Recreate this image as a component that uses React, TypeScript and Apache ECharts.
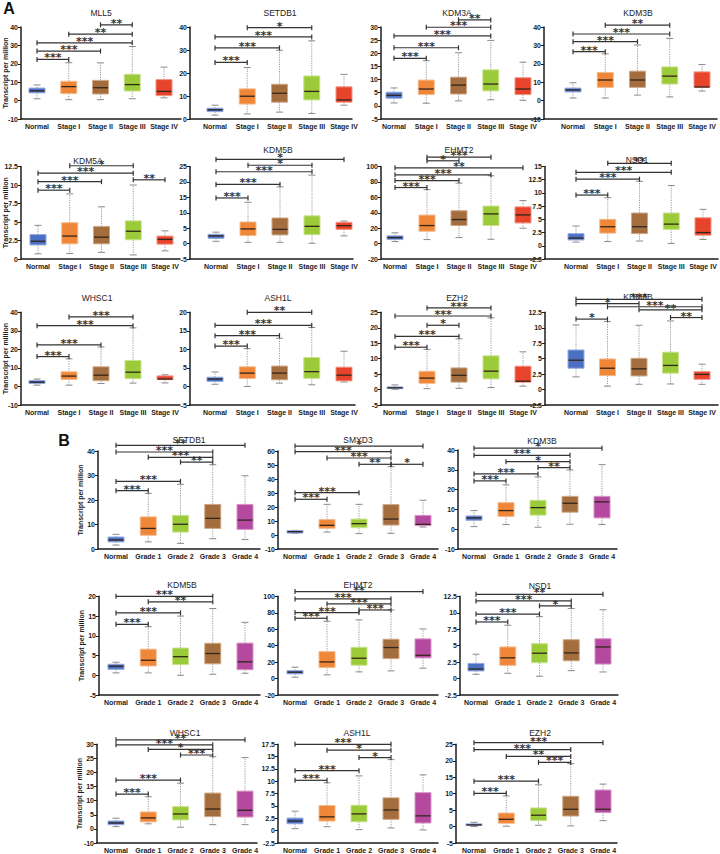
import React, { useEffect, useRef } from "react";
import * as echarts from "echarts";

// ---------- categories ----------
const STAGES = ["Normal", "Stage I", "Stage II", "Stage III", "Stage IV"];
const GRADES = ["Normal", "Grade 1", "Grade 2", "Grade 3", "Grade 4"];
const Y_NAME = "Transcript per million";

// ---------- box data: [min, q1, median, q3, max] ----------
const MLL5_BOX = [[1, 4.2, 5.3, 6.8, 8.5], [0.5, 3.8, 7.6, 10.5, 20.6], [0.5, 3.6, 7, 11, 20.5], [1, 5.2, 8.7, 14.3, 29.4], [1.5, 2.7, 5, 11.4, 18.2]];
const SETDB1A_BOX = [[1.7, 3.2, 4, 4.7, 6], [2.2, 6.5, 9.9, 13.1, 22.4], [3, 7.3, 11.2, 15.1, 29.9], [2.4, 8.3, 12, 18.7, 34], [6, 7.3, 8.3, 14, 19.4]];
const KDM3A_BOX = [[1.1, 2.9, 4, 5.2, 6.8], [1, 4.3, 6.4, 9.8, 17.2], [1.9, 4.5, 7.9, 10.9, 20.2], [2.3, 5.7, 8.3, 13.7, 24.9], [2.1, 4.3, 6.4, 10.7, 16.6]];
const KDM3BA_BOX = [[1.4, 4.7, 5.8, 6.8, 9.7], [1.4, 7.2, 11.2, 15.3, 25.4], [3, 7.2, 11.2, 16, 30.2], [2, 9, 13.3, 18.3, 33.8], [5.2, 7.2, 7.4, 15.6, 19.6]];
const KDM5A_BOX = [[0.7, 1.9, 2.4, 3.3, 4.55], [0.75, 2.05, 3.1, 4.9, 8.8], [0.9, 2.05, 2.95, 4.4, 7.05], [0.55, 2.6, 3.75, 5.15, 10], [1.1, 2, 2.65, 3.1, 3.8]];
const KDM5BA_BOX = [[0.75, 1.7, 2.5, 3, 3.7], [0.4, 2.6, 4.75, 7, 13.4], [0.4, 2.8, 4.6, 8.3, 18.4], [0.1, 2.9, 5.6, 9, 22.2], [2.5, 4.6, 5.8, 6.9, 7.3]];
const EHMT2A_BOX = [[2.6, 5.2, 7.8, 10, 13.9], [5.2, 16, 23.4, 37, 70], [7.8, 23.4, 31.2, 42.6, 78.4], [5.6, 23.4, 38.5, 48.7, 88], [19.9, 26.8, 37.2, 47.6, 55.8]];
const NSD1A_BOX = [[0.7, 1.1, 1.45, 2.3, 3.75], [0.8, 2.4, 3.6, 5, 9.1], [0.9, 2.3, 3.6, 6.2, 12.2], [0.45, 3.1, 4.1, 6.2, 11.4], [1.2, 2, 2.5, 5.3, 6.9]];
const WHSC1A_BOX = [[0.7, 1.6, 2.3, 3.2, 4], [0.7, 3.8, 5.6, 7.9, 14.9], [1.6, 3.1, 6.1, 10.6, 21.3], [1.8, 4.2, 7.7, 14, 31.6], [1.9, 3.7, 4, 5.7, 6.3]];
const ASH1LA_BOX = [[0.6, 1.35, 2, 2.5, 3.9], [0, 2.15, 3.6, 5.3, 10.2], [0.9, 1.8, 3.6, 5.5, 13], [0.45, 2.2, 4, 7.8, 15.9], [1.2, 1.5, 3.05, 5.2, 9.5]];
const EZH2A_BOX = [[0.1, 0.3, 0.55, 0.85, 1.5], [0.3, 2, 3.7, 5.9, 13], [0.4, 2.4, 4.6, 7, 16.4], [0.65, 3.45, 5.95, 10.9, 23.2], [1.1, 2.4, 2.7, 7.55, 12.2]];
const KDM6B_BOX = [[2.05, 3.45, 4.75, 6.4, 10.45], [0.55, 2.25, 3.45, 4.95, 11], [0.85, 2.2, 3.35, 5.05, 10.4], [0.9, 2.65, 3.9, 6.05, 11.1], [0.85, 1.65, 2.45, 2.9, 4.1]];

const SETDB1B_BOX = [[1.6, 2.9, 3.7, 4.9, 6], [2.9, 5.6, 8.4, 13.1, 22.7], [2.3, 6.9, 10.1, 13.7, 26.4], [4.2, 8.4, 12.5, 18.2, 34.4], [3.9, 8, 11.8, 18.2, 29.9]];
const SMYD3_BOX = [[1.2, 1.4, 2.4, 3.1, 3.3], [2.1, 4.8, 6.9, 11, 21.9], [1, 5.2, 8.1, 11.4, 21.9], [1.2, 7.1, 11.4, 21.7, 48.8], [5.7, 6.7, 7.6, 14, 24.8]];
const KDM3BB_BOX = [[1.3, 4.5, 5.7, 6.7, 9.4], [2.4, 6.4, 9.4, 13.4, 22.4], [1, 7.1, 10.9, 14.6, 26.4], [2.5, 8.6, 13.1, 16.6, 29.9], [2.4, 5.7, 13.8, 16.6, 32.6]];
const KDM5BB_BOX = [[0.6, 1.5, 2.3, 2.8, 3.3], [0.6, 2.35, 3.8, 6.6, 12.3], [0, 2.7, 4.7, 6.9, 15], [0.25, 2.9, 5.5, 8.1, 16.9], [0.5, 1.4, 3.4, 8.15, 13.4]];
const EHMT2B_BOX = [[1.6, 5.7, 7.7, 9.7, 13.8], [4.5, 13.4, 20.2, 32.8, 69.6], [8.1, 16.2, 24.7, 38, 71.3], [9.3, 24.3, 37.7, 47.8, 83.4], [12.6, 25.1, 28.3, 48.2, 60.3]];
const NSD1B_BOX = [[0.65, 1.15, 1.45, 2.3, 3.7], [0.8, 2, 3.15, 4.8, 8.1], [0.35, 2.4, 3.85, 5.3, 9.4], [1.2, 2.7, 3.9, 5.9, 10.65], [1, 2.2, 4.8, 6.05, 10.45]];
const WHSC1B_BOX = [[0.8, 1.5, 2.1, 2.8, 3.8], [1.8, 2.5, 3.9, 6, 11.4], [0.6, 3.2, 5.3, 7.9, 16.2], [1.5, 4.35, 7.05, 12.7, 25.6], [1.5, 4.2, 6.6, 13.4, 25.3]];
const ASH1LB_BOX = [[0.4, 1.4, 1.95, 2.55, 3.95], [0.8, 1.95, 2.8, 5.1, 9.7], [0.2, 1.8, 3.4, 5.15, 11.1], [0.55, 2.3, 4.2, 6.65, 14.4], [0.15, 1.55, 3, 7.7, 11.3]];
const EZH2B_BOX = [[0, 0.3, 0.5, 0.8, 1.3], [0.1, 1, 2.2, 4.1, 9.3], [0.4, 1.8, 3.45, 5.65, 12.7], [0.2, 3.2, 5.25, 9.2, 19.1], [1.8, 4.25, 5.25, 11.1, 12.9]];

// ---------- significance brackets: [from, to, height, stars] ----------
const MLL5_SIG = [[0, 1, 22.4, "***"], [0, 2, 26.9, "***"], [0, 3, 31.4, "***"], [1, 3, 36.1, "**"], [2, 3, 41.2, "**"]];
const SETDB1A_SIG = [[0, 1, 24.6, "***"], [0, 2, 30.9, "***"], [0, 3, 35.7, "***"], [1, 3, 39.7, "*"]];
const KDM3A_SIG = [[0, 1, 18.1, "***"], [0, 2, 22.1, "***"], [0, 3, 26.6, "***"], [1, 3, 29.9, "***"], [2, 3, 32.7, "**"]];
const KDM3BA_SIG = [[0, 1, 26.6, "***"], [0, 2, 32, "***"], [0, 3, 36.2, "***"], [1, 3, 41, "**"]];
const KDM5A_SIG = [[0, 1, 9.3, "***"], [0, 2, 10.45, "***"], [0, 3, 11.6, "***"], [1, 3, 12.6, "*"], [3, 4, 10.7, "**"]];
const KDM5BA_SIG = [[0, 1, 14.8, "***"], [0, 2, 19.2, "***"], [0, 3, 23.3, "***"], [1, 3, 25.4, "*"], [0, 4, 27.3, "*"]];
const EHMT2A_SIG = [[0, 1, 72.7, "***"], [0, 2, 81.8, "***"], [0, 3, 89.2, "***"], [0, 4, 98.3, "**"], [1, 2, 107.4, "*"], [1, 3, 112.1, "***"]];
const NSD1A_SIG = [[0, 1, 9.6, "***"], [0, 2, 12.6, "***"], [0, 3, 13.9, "***"], [1, 3, 15.6, "**"]];
const WHSC1A_SIG = [[0, 1, 16.1, "***"], [0, 2, 22.4, "***"], [0, 3, 32.8, "***"], [1, 3, 37.5, "***"]];
const ASH1LA_SIG = [[0, 1, 10.9, "***"], [0, 2, 13.7, "***"], [0, 3, 16.5, "***"], [1, 3, 20, "**"]];
const EZH2A_SIG = [[0, 1, 13.7, "***"], [0, 2, 17.2, "***"], [1, 2, 20.8, "*"], [0, 3, 23.8, "***"], [1, 3, 26.4, "***"]];
const KDM6B_SIG = [[0, 1, 11.4, "*"], [3, 4, 11.65, "**"], [2, 4, 12.9, "**"], [1, 4, 13.4, "***"], [0, 2, 13.9, "*"], [0, 4, 14.6, "***"]];

const SETDB1B_SIG = [[0, 1, 23.8, "***"], [0, 2, 27.6, "***"], [2, 3, 35.5, "**"], [1, 3, 37.4, "***"], [0, 3, 39.6, "***"], [0, 4, 42.3, "**"]];
const SMYD3_SIG = [[0, 1, 25.5, "***"], [0, 2, 30.2, "***"], [2, 3, 50.5, "**"], [3, 4, 50.5, "*"], [1, 3, 55, "***"], [0, 3, 59.5, "***"], [0, 4, 63.5, "*"]];
const KDM3BB_SIG = [[0, 1, 24.4, "***"], [0, 2, 27.9, "***"], [2, 3, 31.1, "**"], [1, 3, 34.1, "*"], [0, 3, 37.3, "***"], [0, 4, 40.9, "*"]];
const KDM5BB_SIG = [[0, 1, 12.9, "***"], [0, 2, 15.8, "***"], [1, 3, 18.6, "**"], [0, 3, 20, "***"]];
const EHMT2B_SIG = [[0, 1, 73.3, "***"], [0, 2, 80.2, "***"], [2, 3, 83.4, "***"], [1, 3, 90.7, "***"], [0, 3, 96.8, "***"], [0, 4, 105.7, "**"]];
const NSD1B_SIG = [[0, 1, 8.6, "***"], [0, 2, 9.8, "***"], [2, 3, 11.05, "*"], [0, 3, 11.8, "***"], [0, 4, 12.8, "**"]];
const WHSC1B_SIG = [[0, 1, 12.35, "***"], [0, 2, 17.3, "***"], [2, 3, 26.2, "***"], [1, 3, 28.2, "*"], [0, 3, 29.8, "***"], [0, 4, 31.6, "**"]];
const ASH1LB_SIG = [[0, 1, 10.2, "***"], [0, 2, 12.15, "***"], [2, 3, 14.8, "*"], [1, 3, 16.3, "*"], [0, 3, 17.5, "***"]];
const EZH2B_SIG = [[0, 1, 10.1, "***"], [0, 2, 13.8, "***"], [2, 3, 19.5, "***"], [1, 3, 21.3, "**"], [0, 3, 23.4, "***"], [0, 4, 25.5, "***"]];

// ---------- styles ----------
const STAGE_FILL = ["#4b6fc3", "#ef8638", "#a46d3e", "#9ccb39", "#e8432b"];
const STAGE_EDGE = ["#93aae0", "#f6b98a", "#cfa785", "#c8e38f", "#f29585"];
const GRADE_FILL = ["#4b6fc3", "#ef8638", "#9ccb39", "#a46d3e", "#b4499f"];
const GRADE_EDGE = ["#93aae0", "#f6b98a", "#c8e38f", "#cfa785", "#d894c9"];
const FONT = "'Liberation Sans', Arial, sans-serif";
const INK = "#1c1c1c";

// ---------- layout (pixel geometry of each panel) ----------
type Panel = {
  title: string; cats: string[]; fill: string[]; edge: string[];
  boxes: number[][]; sig: any[][];
  ax: number; xe: number; c0: number; c4: number; yt: number; yb: number;
  min: number; max: number; step: number; tx: number; ty: number;
  nameGap?: number; fmt?: (v: number) => string;
};

const A = { cats: STAGES, fill: STAGE_FILL, edge: STAGE_EDGE };
const B = { cats: GRADES, fill: GRADE_FILL, edge: GRADE_EDGE };

const PANELS: Panel[] = [
  { ...A, title: "MLL5", boxes: MLL5_BOX, sig: MLL5_SIG, ax: 21, xe: 181, c0: 37, c4: 164, yt: 27, yb: 119, min: -10, max: 40, step: 10, tx: 101, ty: 13, nameGap: 12 },
  { ...A, title: "SETDB1", boxes: SETDB1A_BOX, sig: SETDB1A_SIG, ax: 190, xe: 352, c0: 215, c4: 344, yt: 27, yb: 119, min: 0, max: 40, step: 10, tx: 280, ty: 13 },
  { ...A, title: "KDM3A", boxes: KDM3A_BOX, sig: KDM3A_SIG, ax: 381, xe: 540, c0: 394, c4: 523, yt: 27, yb: 119, min: -5, max: 30, step: 5, tx: 457, ty: 13 },
  { ...A, title: "KDM3B", boxes: KDM3BA_BOX, sig: KDM3BA_SIG, ax: 544, xe: 717, c0: 573, c4: 702, yt: 27, yb: 119, min: -10, max: 40, step: 10, tx: 638, ty: 13 },

  { ...A, title: "KDM5A", boxes: KDM5A_BOX, sig: KDM5A_SIG, ax: 21, xe: 180, c0: 38, c4: 165, yt: 166.5, yb: 259, min: 0, max: 12.5, step: 2.5, tx: 88, ty: 161, nameGap: 12 },
  { ...A, title: "KDM5B", boxes: KDM5BA_BOX, sig: KDM5BA_SIG, ax: 190, xe: 353, c0: 216, c4: 344, yt: 166.5, yb: 259, min: -5, max: 25, step: 5, tx: 278, ty: 150 },
  { ...A, title: "EHMT2", boxes: EHMT2A_BOX, sig: EHMT2A_SIG, ax: 381, xe: 540, c0: 395, c4: 523, yt: 166.5, yb: 259, min: -20, max: 100, step: 20, tx: 459, ty: 150 },
  { ...A, title: "NSD1", boxes: NSD1A_BOX, sig: NSD1A_SIG, ax: 545, xe: 718, c0: 576, c4: 703, yt: 166.5, yb: 259, min: -2.5, max: 15, step: 2.5, tx: 637, ty: 160 },

  { ...A, title: "WHSC1", boxes: WHSC1A_BOX, sig: WHSC1A_SIG, ax: 21, xe: 180, c0: 37, c4: 165, yt: 312.3, yb: 405, min: -10, max: 40, step: 10, tx: 97, ty: 298, nameGap: 12 },
  { ...A, title: "ASH1L", boxes: ASH1LA_BOX, sig: ASH1LA_SIG, ax: 190, xe: 355, c0: 215, c4: 344, yt: 312.3, yb: 405, min: -5, max: 20, step: 5, tx: 278, ty: 298 },
  { ...A, title: "EZH2", boxes: EZH2A_BOX, sig: EZH2A_SIG, ax: 381, xe: 540, c0: 395, c4: 523, yt: 312.3, yb: 405, min: -5, max: 25, step: 5, tx: 457, ty: 298 },
  { ...A, title: "KDM6B", boxes: KDM6B_BOX, sig: KDM6B_SIG, ax: 545, xe: 718, c0: 576, c4: 702, yt: 312.3, yb: 405, min: -2.5, max: 12.5, step: 2.5, tx: 638, ty: 297 },

  { ...B, title: "SETDB1", boxes: SETDB1B_BOX, sig: SETDB1B_SIG, ax: 98, xe: 260, c0: 116, c4: 245, yt: 451, yb: 549, min: 0, max: 40, step: 10, tx: 189, ty: 440, nameGap: 14 },
  { ...B, title: "SMYD3", boxes: SMYD3_BOX, sig: SMYD3_SIG, ax: 278, xe: 438, c0: 295, c4: 423, yt: 451, yb: 549, min: -10, max: 60, step: 10, tx: 358, ty: 440 },
  { ...B, title: "KDM3B", boxes: KDM3BB_BOX, sig: KDM3BB_SIG, ax: 458, xe: 617, c0: 474, c4: 602, yt: 450, yb: 549, min: -10, max: 40, step: 10, tx: 542, ty: 441 },

  { ...B, title: "KDM5B", boxes: KDM5BB_BOX, sig: KDM5BB_SIG, ax: 99, xe: 260, c0: 116, c4: 245, yt: 596.3, yb: 695, min: -5, max: 20, step: 5, tx: 182, ty: 585, nameGap: 14 },
  { ...B, title: "EHMT2", boxes: EHMT2B_BOX, sig: EHMT2B_SIG, ax: 278, xe: 438, c0: 295, c4: 423, yt: 596.3, yb: 695, min: -20, max: 100, step: 20, tx: 358, ty: 585 },
  { ...B, title: "NSD1", boxes: NSD1B_BOX, sig: NSD1B_SIG, ax: 460, xe: 618, c0: 476, c4: 603, yt: 596.3, yb: 695, min: -2.5, max: 12.5, step: 2.5, tx: 540, ty: 586 },

  { ...B, title: "WHSC1", boxes: WHSC1B_BOX, sig: WHSC1B_SIG, ax: 97, xe: 257, c0: 116, c4: 245, yt: 744.3, yb: 843.5, min: -5, max: 30, step: 5, tx: 185, ty: 733, nameGap: 14, fmt: (v: number) => (v === -5 ? "-10" : String(v)) },
  { ...B, title: "ASH1L", boxes: ASH1LB_BOX, sig: ASH1LB_SIG, ax: 278, xe: 438, c0: 295, c4: 423, yt: 744.3, yb: 843.5, min: -2.5, max: 17.5, step: 2.5, tx: 357, ty: 733 },
  { ...B, title: "EZH2", boxes: EZH2B_BOX, sig: EZH2B_SIG, ax: 456, xe: 617, c0: 474, c4: 603, yt: 744.3, yb: 843.5, min: -5, max: 25, step: 5, tx: 540, ty: 733 },
];

function buildOption() {
  const grid: any[] = [];
  const xAxis: any[] = [];
  const yAxis: any[] = [];
  const series: any[] = [];
  const graphic: any[] = [];

  PANELS.forEach((p, k) => {
    const s = (p.c4 - p.c0) / 4;
    grid.push({ left: p.ax, top: p.yt, width: p.xe - p.ax, height: p.yb - p.yt });
    xAxis.push({
      type: "value", gridIndex: k,
      min: -(p.c0 - p.ax) / s, max: 4 + (p.xe - p.c4) / s,
      axisLine: { onZero: false, lineStyle: { color: INK, width: 1.5 } },
      axisTick: { show: false },
      splitLine: { show: false },
      axisLabel: {
        customValues: [0, 1, 2, 3, 4],
        formatter: (v: number) => p.cats[Math.round(v)],
        fontSize: 7, fontWeight: "bold", color: INK, margin: 4, fontFamily: FONT,
      },
    });
    yAxis.push({
      type: "value", gridIndex: k, min: p.min, max: p.max, interval: p.step,
      axisLine: { show: true, onZero: false, lineStyle: { color: INK, width: 1.5 } },
      axisTick: { show: true, length: 3, lineStyle: { color: INK, width: 1 } },
      splitLine: { show: false },
      axisLabel: {
        fontSize: 7, fontWeight: "bold", color: INK, margin: 3, fontFamily: FONT,
        showMinLabel: true, showMaxLabel: true, hideOverlap: false,
        formatter: p.fmt ? p.fmt : (v: number) => String(v),
      },
      name: p.nameGap ? Y_NAME : "",
      nameLocation: "middle", nameRotate: 90, nameGap: p.nameGap || 0,
      nameMoveOverlap: false,
      nameTextStyle: { fontSize: 7, fontWeight: "bold", color: INK, fontFamily: FONT },
    });

    series.push({
      type: "custom", xAxisIndex: k, yAxisIndex: k, z: 2,
      data: p.boxes.map((b, i) => [i, ...b]),
      encode: { x: 0, y: [1, 2, 3, 4, 5] },
      renderItem: (params: any, api: any) => {
        const i = api.value(0);
        const lo = api.coord([i, api.value(1)]);
        const q1 = api.coord([i, api.value(2)]);
        const md = api.coord([i, api.value(3)]);
        const q3 = api.coord([i, api.value(4)]);
        const hi = api.coord([i, api.value(5)]);
        const x = lo[0];
        const hw = 8;
        const cw = 3.5;
        const wStyle = { stroke: "#9a9a9a", lineWidth: 1, lineDash: [1.2, 1.2] };
        const cStyle = { stroke: "#8a8a8a", lineWidth: 1 };
        return {
          type: "group",
          children: [
            { type: "line", shape: { x1: x, y1: q3[1], x2: x, y2: hi[1] }, style: wStyle },
            { type: "line", shape: { x1: x, y1: q1[1], x2: x, y2: lo[1] }, style: wStyle },
            { type: "line", shape: { x1: x - cw, y1: hi[1], x2: x + cw, y2: hi[1] }, style: cStyle },
            { type: "line", shape: { x1: x - cw, y1: lo[1], x2: x + cw, y2: lo[1] }, style: cStyle },
            {
              type: "rect",
              shape: { x: x - hw, y: q3[1], width: 2 * hw, height: q1[1] - q3[1] },
              style: { fill: p.fill[i], stroke: p.edge[i], lineWidth: 1 },
            },
            { type: "line", shape: { x1: x - hw + 0.5, y1: md[1], x2: x + hw - 0.5, y2: md[1] }, style: { stroke: "#33261c", lineWidth: 1.3 } },
          ],
        };
      },
    });

    series.push({
      type: "custom", xAxisIndex: k, yAxisIndex: k, z: 3,
      data: p.sig.map((r) => [r[0], r[1], r[2]]),
      encode: { x: [0, 1], y: 2 },
      renderItem: (params: any, api: any) => {
        const a = api.coord([api.value(0), api.value(2)]);
        const b = api.coord([api.value(1), api.value(2)]);
        const label = p.sig[params.dataIndex][3];
        const st = { stroke: "#333333", lineWidth: 1.2 };
        return {
          type: "group",
          children: [
            { type: "line", shape: { x1: a[0], y1: a[1], x2: b[0], y2: b[1] }, style: st },
            { type: "line", shape: { x1: a[0], y1: a[1] - 2.5, x2: a[0], y2: a[1] + 2.5 }, style: st },
            { type: "line", shape: { x1: b[0], y1: b[1] - 2.5, x2: b[0], y2: b[1] + 2.5 }, style: st },
            {
              type: "text",
              x: (a[0] + b[0]) / 2, y: a[1] - 1.5,
              style: {
                text: label, fill: "#333333", font: "bold 11px 'DejaVu Sans', sans-serif",
                align: "center", verticalAlign: "middle",
              },
            },
          ],
        };
      },
    });

    graphic.push({
      type: "text", x: p.tx, y: p.ty,
      style: { text: p.title, fill: "#222", font: `8.5px ${FONT}`, align: "center", verticalAlign: "middle" },
    });
  });

  graphic.push({ type: "text", x: 9, y: 8, style: { text: "A", fill: "#111", font: `bold 16px ${FONT}`, align: "center", verticalAlign: "middle" } });
  graphic.push({ type: "text", x: 64, y: 440, style: { text: "B", fill: "#111", font: `bold 16px ${FONT}`, align: "center", verticalAlign: "middle" } });

  return {
    animation: false,
    backgroundColor: "#ffffff",
    textStyle: { fontFamily: FONT },
    grid, xAxis, yAxis, series, graphic,
  };
}

export default function App() {
  const ref = useRef<HTMLDivElement>(null);
  useEffect(() => {
    if (!ref.current) return;
    const chart = echarts.init(ref.current, undefined, { renderer: "svg" });
    chart.setOption(buildOption() as any);
    return () => chart.dispose();
  }, []);
  return (
    <div
      ref={ref}
      style={{ position: "fixed", left: 0, top: 0, width: 720, height: 854, background: "#fff" }}
    />
  );
}
